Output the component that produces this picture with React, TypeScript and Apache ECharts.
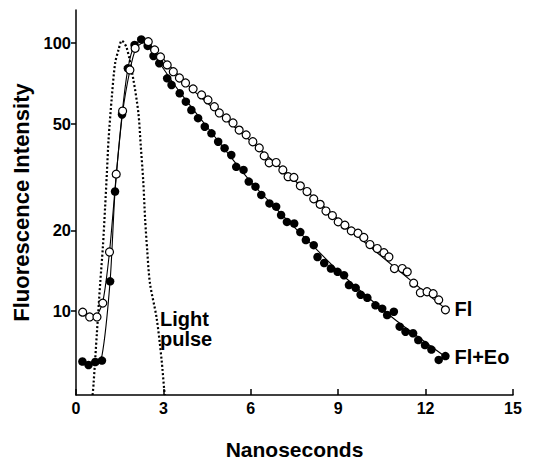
import React, { useEffect, useRef } from 'react';
import * as echarts from 'echarts';

const FONT = '"Liberation Sans", Arial, Helvetica, sans-serif';

const xTickStep = 3;
const xMin = 0;
const xMax = 15;
const yMin = 4.86;
const yMax = 132.7;
const yTickValues = [10, 20, 50, 100];

// Fl (open circles)
const flTime = [0.23, 0.47, 0.72, 0.92, 1.15, 1.38, 1.6, 1.85, 2.03, 2.48, 2.7, 2.9, 3.13, 3.34, 3.55, 3.76, 4.02, 4.31, 4.53, 4.75, 4.92, 5.16, 5.39, 5.6, 5.84, 6.07, 6.29, 6.46, 6.63, 6.87, 7.1, 7.28, 7.48, 7.7, 7.93, 8.16, 8.38, 8.58, 8.8, 9.0, 9.23, 9.45, 9.68, 9.88, 10.09, 10.34, 10.57, 10.74, 10.93, 11.2, 11.37, 11.59, 11.82, 12.05, 12.26, 12.45, 12.68];
const flValue = [9.9, 9.5, 9.5, 10.7, 16.6, 32.4, 55.7, 79.3, 95.5, 101.1, 94.2, 88.7, 82.8, 78.1, 74.0, 70.9, 67.4, 64.0, 61.3, 57.8, 54.8, 52.5, 50.3, 47.3, 45.4, 42.8, 40.6, 37.9, 35.7, 35.8, 33.6, 31.7, 31.5, 29.3, 27.9, 26.2, 25.0, 23.6, 22.7, 21.5, 20.9, 19.9, 19.5, 18.8, 17.7, 17.1, 16.5, 15.9, 14.4, 14.4, 14.0, 12.7, 11.7, 11.8, 11.6, 11.0, 10.1];

// Fl + Eo (filled circles)
const fleoTime = [0.22, 0.43, 0.66, 0.89, 1.17, 1.34, 1.58, 1.78, 2.01, 2.24, 2.46, 2.66, 2.86, 3.13, 3.28, 3.56, 3.77, 3.96, 4.19, 4.42, 4.65, 4.88, 5.1, 5.33, 5.5, 5.75, 5.93, 6.16, 6.36, 6.64, 6.87, 7.04, 7.24, 7.49, 7.7, 7.89, 8.16, 8.29, 8.52, 8.75, 8.98, 9.2, 9.37, 9.6, 9.77, 10.0, 10.28, 10.51, 10.68, 10.91, 11.11, 11.31, 11.57, 11.75, 11.98, 12.2, 12.45, 12.68];
const fleoValue = [6.48, 6.29, 6.45, 6.53, 12.9, 27.9, 54.1, 80.4, 98.3, 103.1, 97.5, 89.4, 84.0, 73.8, 69.7, 64.9, 60.4, 56.2, 52.4, 48.7, 46.0, 42.8, 40.5, 38.2, 34.5, 33.6, 30.4, 29.1, 27.1, 25.2, 24.5, 22.8, 21.5, 21.2, 19.7, 18.4, 17.6, 15.9, 15.1, 14.4, 14.0, 13.6, 12.5, 12.2, 11.5, 11.2, 10.5, 10.2, 9.66, 9.94, 8.74, 8.37, 8.26, 7.79, 7.46, 7.18, 6.57, 6.79];

// Fitted curves
const flFitTime = [0.72, 0.92, 1.15, 1.38, 1.6, 1.85, 2.05, 2.3, 2.5, 4, 6, 8, 10, 12.68];
const flFitValue = [9.6, 10.8, 16.6, 32, 55, 79, 95, 100, 99, 67, 43, 27.5, 17.7, 10.2];
const fleoFitTime = [0.66, 0.89, 1.17, 1.34, 1.58, 1.78, 2.0, 2.24, 2.46, 3.5, 5, 6, 7, 8, 9, 10, 11, 12.68];
const fleoFitValue = [6.45, 6.8, 12.9, 27.9, 54, 80, 98, 102, 97.5, 67, 41.5, 30.3, 23.3, 18.1, 14.1, 11.3, 9.2, 6.75];

// Light pulse (dotted)
const pulseTime = [0.57, 0.605, 0.717, 0.83, 0.922, 1.0, 1.06, 1.117, 1.23, 1.343, 1.459, 1.572, 1.742, 1.971, 2.142, 2.221, 2.306, 2.374, 2.443, 2.538, 2.767, 2.938, 3.03, 3.058];
const pulseValue = [4.86, 5.39, 8.28, 12.7, 17.3, 24.5, 32.7, 43.5, 63.0, 84.0, 94.2, 102, 95.8, 72.8, 54.7, 41.6, 30.8, 21.9, 16.9, 12.7, 9.42, 6.57, 5.07, 4.86];

const zip = (a: number[], b: number[]) => a.map((x, i) => [x, b[i]]);

export default function App() {
  const ref = useRef<HTMLDivElement>(null);
  useEffect(() => {
    document.body.style.margin = '0';
    if (!ref.current) return;
    const chart = echarts.init(ref.current, null, { renderer: 'svg' });
    const labelFont = { fontFamily: FONT, fontWeight: 'bold' as const, color: '#000' };
    chart.setOption({
      animation: false,
      backgroundColor: '#fff',
      grid: { left: 76, right: 20, top: 10, bottom: 67, containLabel: false, outerBoundsMode: 'none' },
      xAxis: {
        type: 'value',
        min: xMin,
        max: xMax,
        interval: xTickStep,
        name: 'Nanoseconds',
        nameLocation: 'middle',
        nameGap: 44,
        nameTextStyle: { ...labelFont, fontSize: 21, lineHeight: 21 },
        axisLine: { lineStyle: { color: '#000', width: 1.5 } },
        axisTick: { inside: true, length: 6, lineStyle: { color: '#000', width: 1.5 } },
        axisLabel: { ...labelFont, fontSize: 16, margin: 5 },
        splitLine: { show: false },
      },
      yAxis: {
        type: 'log',
        logBase: 10,
        min: yMin,
        max: yMax,
        name: 'Fluorescence Intensity',
        nameLocation: 'middle',
        nameGap: 44,
        nameTextStyle: { ...labelFont, fontSize: 22 },
        axisLine: { lineStyle: { color: '#000', width: 1.5 } },
        axisTick: { length: 5, customValues: yTickValues, lineStyle: { color: '#000', width: 1.5 } },
        axisLabel: { ...labelFont, fontSize: 16.5, margin: 5, customValues: yTickValues },
        splitLine: { show: false },
        minorTick: { show: false },
      },
      graphic: [
        {
          type: 'text',
          left: 160,
          top: 309,
          style: { text: 'Light\npulse', font: `bold 20px ${FONT}`, lineHeight: 20, fill: '#000' },
        },
      ],
      series: [
        {
          type: 'line',
          name: 'Light pulse',
          data: zip(pulseTime, pulseValue),
          showSymbol: false,
          smooth: 0.3,
          clip: true,
          lineStyle: { color: '#000', width: 2.2, type: [2, 2.2] },
          z: 1,
        },
        {
          type: 'line',
          name: 'Fl fit',
          data: zip(flFitTime, flFitValue),
          showSymbol: false,
          smooth: 0.25,
          lineStyle: { color: '#000', width: 1.1 },
          endLabel: { show: true, formatter: 'Fl', ...labelFont, fontSize: 20, distance: 9 },
          z: 2,
        },
        {
          type: 'line',
          name: 'Fl+Eo fit',
          data: zip(fleoFitTime, fleoFitValue),
          showSymbol: false,
          smooth: 0.25,
          lineStyle: { color: '#000', width: 1.1 },
          endLabel: { show: true, formatter: 'Fl+Eo', ...labelFont, fontSize: 20, distance: 9 },
          z: 2,
        },
        {
          type: 'scatter',
          name: 'Fl+Eo',
          data: zip(fleoTime, fleoValue),
          symbol: 'circle',
          symbolSize: 8.5,
          itemStyle: { color: '#000', opacity: 1 },
          z: 3,
        },
        {
          type: 'scatter',
          name: 'Fl',
          data: zip(flTime, flValue),
          symbol: 'circle',
          symbolSize: 8,
          itemStyle: { color: '#fff', borderColor: '#000', borderWidth: 1.2, opacity: 1 },
          z: 4,
        },
      ],
    });
    return () => chart.dispose();
  }, []);
  return <div ref={ref} style={{ width: 533, height: 462 }} />;
}
